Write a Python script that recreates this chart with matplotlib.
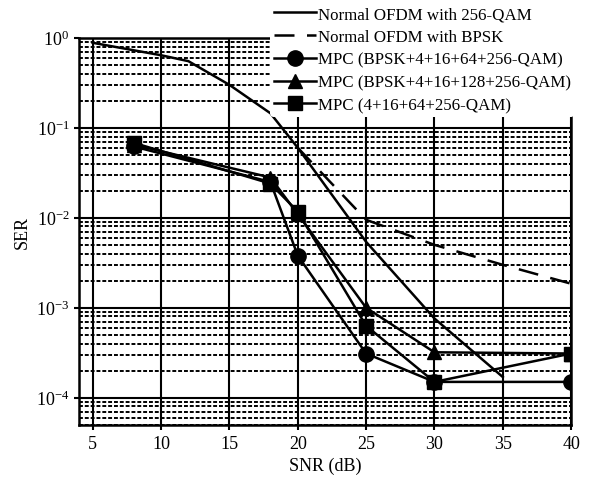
import matplotlib
matplotlib.use('Agg')
import matplotlib.pyplot as plt
from matplotlib.ticker import LogLocator, NullFormatter

plt.rcParams['font.family'] = ['Liberation Serif', 'DejaVu Serif']
plt.rcParams['mathtext.fontset'] = 'stix'

# SNR (dB) and SER values
snr_ofdm256 = [5, 10, 12, 15, 18, 20, 25, 30, 35]
ser_ofdm256 = [0.88, 0.64, 0.55, 0.30, 0.145, 0.06, 5.4e-3, 7.6e-4, 1.7e-4]

snr_bpsk = [20, 25, 30, 35, 40]
ser_bpsk = [0.06, 9.5e-3, 5.0e-3, 3.0e-3, 1.85e-3]

snr_mpc = [8, 18, 20, 25, 30, 40]
ser_mpc1 = [0.062, 0.025, 3.8e-3, 3.1e-4, 1.5e-4, 1.5e-4]
ser_mpc2 = [0.065, 0.028, 0.011, 1.0e-3, 3.2e-4, 3.1e-4]
ser_mpc3 = [0.068, 0.024, 0.0117, 6.3e-4, 1.5e-4, 3.1e-4]

labels = ['Normal OFDM with 256-QAM', 'Normal OFDM with BPSK',
          'MPC (BPSK+4+16+64+256-QAM)', 'MPC (BPSK+4+16+128+256-QAM)',
          'MPC (4+16+64+256-QAM)']

fig = plt.figure(figsize=(5.9, 4.85), dpi=100)
ax = fig.add_axes([0.134, 0.122, 0.834, 0.798])

lw = 1.8
ax.semilogy(snr_ofdm256, ser_ofdm256, '-', color='black', lw=lw, label=labels[0])
ax.semilogy(snr_bpsk, ser_bpsk, '--', color='black', lw=lw, dashes=(8, 5), label=labels[1])
ax.semilogy(snr_mpc, ser_mpc1, '-o', color='black', lw=lw, ms=11, label=labels[2])
ax.semilogy(snr_mpc, ser_mpc2, '-^', color='black', lw=lw, ms=10, label=labels[3])
ax.semilogy(snr_mpc, ser_mpc3, '-s', color='black', lw=lw, ms=10, label=labels[4])

ax.set_xlim(4, 40)
ax.set_ylim(5e-5, 1)
ax.set_xticks([5, 10, 15, 20, 25, 30, 35, 40])
ax.yaxis.set_major_locator(LogLocator(base=10, numticks=10))
ax.yaxis.set_minor_locator(LogLocator(base=10, subs=range(2, 10), numticks=20))
ax.yaxis.set_minor_formatter(NullFormatter())
ax.tick_params(axis='both', labelsize=13, width=1.5)
ax.tick_params(axis='y', which='minor', length=0)

ax.grid(True, which='major', axis='both', color='black', lw=1.5, ls='-')
ax.grid(True, which='minor', axis='y', color='black', lw=1.4, ls=(0, (2, 1)))
ax.set_axisbelow(True)
for s in ax.spines.values():
    s.set_linewidth(1.8)

ax.set_xlabel('SNR (dB)', fontsize=13)
ax.set_ylabel('SER', fontsize=13)

fig.legend(loc='upper left', bbox_to_anchor=(0.458, 0.992), fontsize=12.2,
           frameon=True, facecolor='white', edgecolor='none', framealpha=1,
           handlelength=2.5, handletextpad=0.1, labelspacing=0.4,
           borderpad=0.2, borderaxespad=0)

fig.savefig('out.png', dpi=100)
